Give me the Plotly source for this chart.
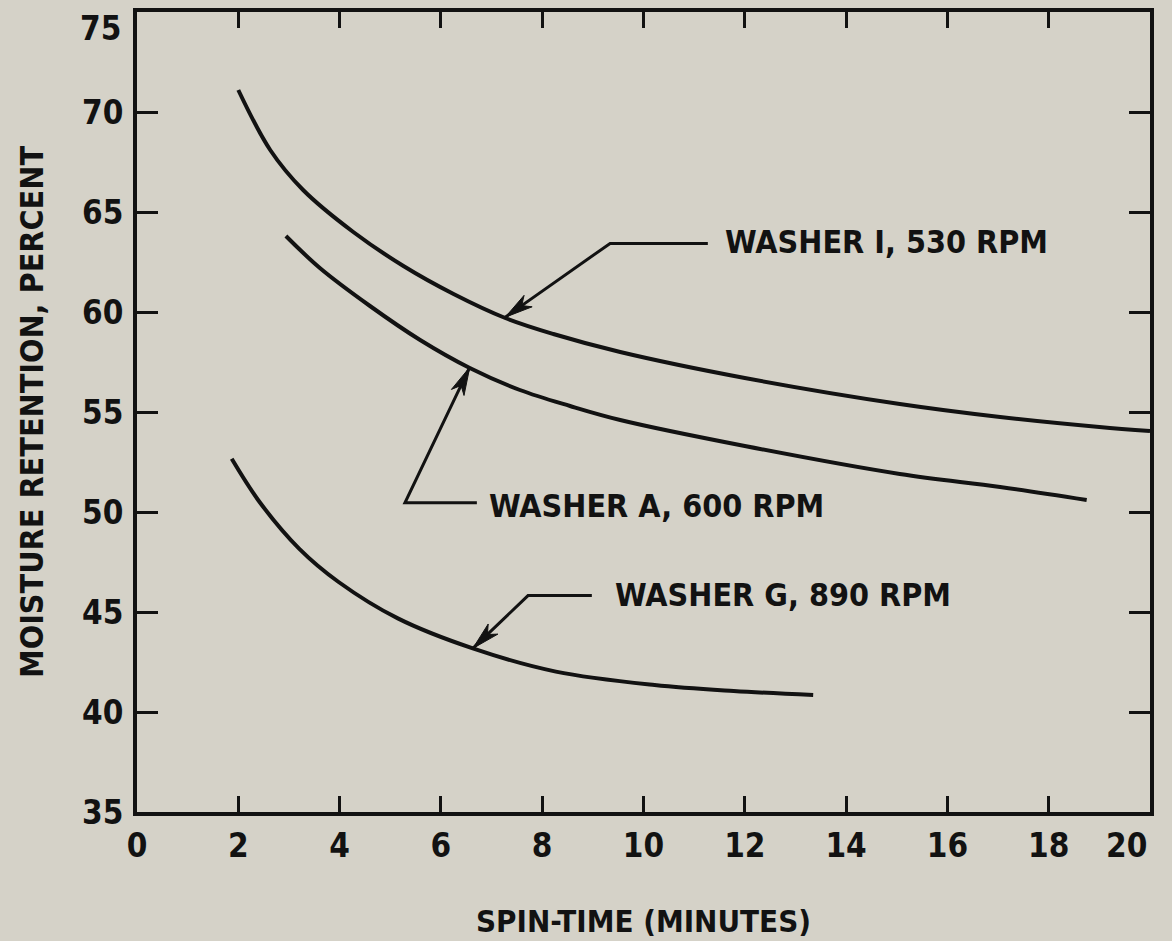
import math
import plotly.graph_objects as go

# ---- data ----
washer_i_x = [2.0, 2.63, 3.28, 4.27, 5.26, 6.25, 7.27, 8.22, 9.54, 12.0, 15.06, 17.04, 19.0, 20.0]
washer_i_y = [71.1, 68.1, 66.1, 64.0, 62.3, 60.9, 59.7, 58.9, 58.0, 56.7, 55.4, 54.75, 54.25, 54.05]

washer_a_x = [2.94, 3.61, 4.60, 5.59, 6.57, 7.56, 8.55, 9.54, 12.0, 15.06, 17.04, 18.75]
washer_a_y = [63.8, 62.2, 60.3, 58.6, 57.2, 56.1, 55.3, 54.6, 53.3, 51.9, 51.25, 50.6]

washer_g_x = [1.87, 2.42, 3.20, 3.98, 5.15, 6.63, 8.27, 10.22, 11.78, 13.35]
washer_g_y = [52.66, 50.5, 48.17, 46.5, 44.68, 43.18, 42.02, 41.35, 41.05, 40.85]

x_ticks = [0, 2, 4, 6, 8, 10, 12, 14, 16, 18, 20]
y_ticks = [35, 40, 45, 50, 55, 60, 65, 70, 75]

labels = ["WASHER I, 530 RPM", "WASHER A, 600 RPM", "WASHER G, 890 RPM"]

INK = "#121212"
BG = "#d5d2c8"
FONT = "Liberation Sans Narrow, DejaVu Sans Condensed, Arial Narrow, sans-serif"

W, H = 1172, 941
ML, MR, MT, MB = 137, 22, 12, 129
X_RANGE = [0, 20]
Y_RANGE = [35, 75]
PX_X = (W - ML - MR) / (X_RANGE[1] - X_RANGE[0])   # pixels per x unit
PX_Y = (H - MT - MB) / (Y_RANGE[1] - Y_RANGE[0])   # pixels per y unit

fig = go.Figure()
for xs, ys, name in [(washer_i_x, washer_i_y, labels[0]),
                     (washer_a_x, washer_a_y, labels[1]),
                     (washer_g_x, washer_g_y, labels[2])]:
    fig.add_trace(go.Scatter(x=xs, y=ys, mode="lines", name=name,
                             line=dict(color=INK, width=4, shape="spline", smoothing=1.0),
                             showlegend=False, hoverinfo="skip"))

# leader geometry: (label x, label y, line-start x, bend x, bend y, tip x, tip y)
leaders = [
    (11.57, 63.50, 11.27, 9.34, 63.43, 7.27, 59.74),
    (6.91, 50.32, 6.71, 5.29, 50.46, 6.57, 57.24),
    (9.40, 45.85, 8.98, 7.72, 45.82, 6.63, 43.18),
]


def arrow_head(bx, by, tx, ty, length=28, half=7, notch=0.72):
    # direction in pixel space (y up)
    dx = (tx - bx) * PX_X
    dy = (ty - by) * PX_Y
    n = math.hypot(dx, dy)
    ux, uy = dx / n, dy / n
    px, py = -uy, ux
    pts = [
        (0, 0),
        (-length * ux + half * px, -length * uy + half * py),
        (-length * notch * ux, -length * notch * uy),
        (-length * ux - half * px, -length * uy - half * py),
    ]
    coords = [(tx + a / PX_X, ty + b / PX_Y) for a, b in pts]
    path = "M " + " L ".join(f"{cx:.4f},{cy:.4f}" for cx, cy in coords) + " Z"
    return dict(type="path", xref="x", yref="y", path=path,
                fillcolor=INK, line=dict(color=INK, width=1))


annotations = []
shapes = []
for text, (lx, ly, hx, bx, by, tx, ty) in zip(labels, leaders):
    shapes.append(dict(type="path", xref="x", yref="y",
                       path=f"M {hx},{by} L {bx},{by} L {tx},{ty}",
                       line=dict(color=INK, width=3)))
    shapes.append(arrow_head(bx, by, tx, ty))
    annotations.append(dict(x=lx, y=ly, xref="x", yref="y", text=text, showarrow=False,
                            xanchor="left", yanchor="middle",
                            font=dict(family=FONT, size=32, color=INK, weight="bold")))

TICK_FONT = dict(family=FONT, size=33, color=INK, weight="bold")

# edge tick labels: in the reference they sit just inside the frame corners
x_text = [str(v) for v in x_ticks]
y_text = [str(v) for v in y_ticks]
x_text[-1] = ""
y_text[-1] = ""
annotations.append(dict(x=x_ticks[-1], y=0, xref="x", yref="paper", text=str(x_ticks[-1]),
                        showarrow=False, xanchor="right", yanchor="top",
                        xshift=-1, yshift=-12, font=TICK_FONT))
annotations.append(dict(x=0, y=y_ticks[-1], xref="paper", yref="y", text=str(y_ticks[-1]),
                        showarrow=False, xanchor="right", yanchor="top",
                        xshift=-14, yshift=5, font=TICK_FONT))

axis_common = dict(showline=True, linewidth=4, linecolor=INK, mirror="ticks",
                   ticks="inside", tickwidth=3, tickcolor=INK, automargin=False,
                   showgrid=False, zeroline=False, ticklabeloverflow="allow",
                   tickfont=TICK_FONT)

fig.update_layout(
    width=W, height=H, autosize=False,
    margin=dict(l=ML, r=MR, t=MT, b=MB),
    paper_bgcolor=BG, plot_bgcolor=BG,
    shapes=shapes, annotations=annotations,
    xaxis=dict(range=X_RANGE, tickvals=x_ticks, ticktext=x_text, ticklen=16,
               ticklabelstandoff=1,
               title=dict(text="SPIN-TIME (MINUTES)", standoff=48,
                          font=dict(family=FONT, size=31, color=INK, weight="bold")),
               **axis_common),
    yaxis=dict(range=Y_RANGE, tickvals=y_ticks, ticktext=y_text, ticklen=21,
               ticklabelstandoff=3,
               title=dict(text="MOISTURE RETENTION, PERCENT", standoff=30,
                          font=dict(family=FONT, size=32, color=INK, weight="bold")),
               **axis_common),
)

fig.write_html("out.html", config={"displayModeBar": False},
               post_script="document.body.style.margin='0px';")
